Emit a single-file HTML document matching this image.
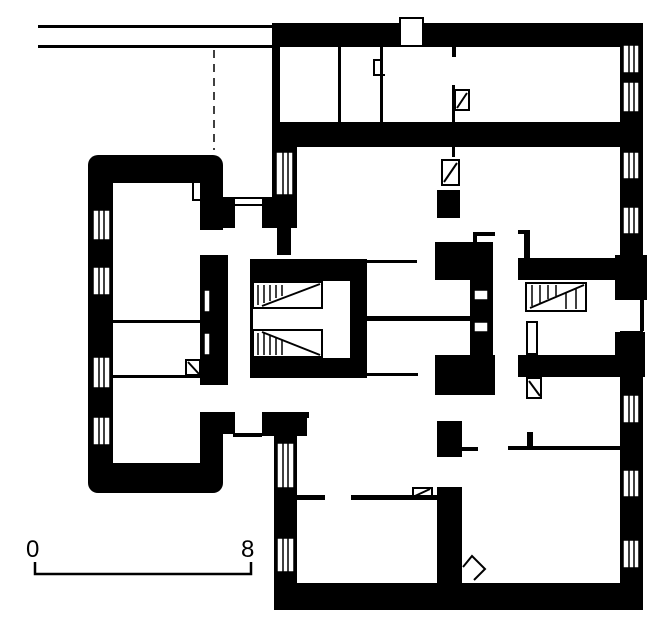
<!DOCTYPE html>
<html><head><style>html,body{margin:0;padding:0;background:#fff}svg{display:block}</style></head>
<body>
<svg width="668" height="634" viewBox="0 0 668 634" xmlns="http://www.w3.org/2000/svg">
<rect width="668" height="634" fill="#fff"/>
<g fill="#000">
<!-- top double line -->
<rect x="38" y="25" width="237" height="3"/>
<rect x="38" y="45" width="237" height="3"/>
<!-- main top wall -->
<rect x="272" y="23" width="371" height="24"/>
<rect x="272" y="23" width="8" height="110"/>
<!-- wall 2 -->
<rect x="272" y="122" width="371" height="25"/>
<!-- right wall -->
<rect x="620" y="23" width="23" height="587"/>
<rect x="615" y="255" width="32" height="45"/>
<rect x="615" y="332" width="30" height="45"/>
<!-- bottom wall -->
<rect x="274" y="583" width="369" height="27"/>
<!-- main left wall -->
<rect x="272" y="145" width="25" height="83"/>
<rect x="277" y="225" width="14" height="30"/>
<rect x="274" y="412" width="23" height="198"/>
<rect x="262" y="412" width="45" height="24"/>
<rect x="297" y="412" width="12" height="6"/>
<!-- left wing -->
<rect x="88" y="155" width="135" height="338" rx="10"/>
<rect x="223" y="197" width="12" height="31"/>
<rect x="262" y="197" width="30" height="31"/>
<rect x="223" y="412" width="12" height="22"/>
<!-- stair block left -->
<rect x="250" y="259" width="117" height="119"/>
<!-- central block -->
<rect x="435" y="242" width="58" height="38"/>
<rect x="470" y="278" width="23" height="82"/>
<rect x="435" y="355" width="60" height="40"/>
<rect x="437" y="190" width="23" height="28"/>
<rect x="437" y="421" width="25" height="36"/>
<rect x="460" y="447" width="18" height="4"/>
<rect x="475" y="232" width="20" height="4"/>
<rect x="473" y="232" width="4" height="12"/>
<!-- right stair block -->
<rect x="518" y="258" width="102" height="22"/>
<rect x="518" y="355" width="102" height="22"/>
<rect x="524" y="230" width="6" height="30"/>
<rect x="518" y="230" width="12" height="4"/>
<!-- lines -->
<rect x="367" y="260" width="50" height="3"/>
<rect x="367" y="316" width="103" height="5"/>
<rect x="367" y="373" width="51" height="3"/>
<rect x="508" y="446" width="112" height="4"/>
<rect x="527" y="432" width="6" height="16"/>
<rect x="297" y="495" width="28" height="5"/>
<rect x="351" y="495" width="86" height="5"/>
<rect x="437" y="487" width="25" height="97"/>
<!-- link lines -->
<rect x="235" y="197" width="27" height="2"/>
<rect x="235" y="204" width="27" height="2"/>
<rect x="233" y="433" width="29" height="4"/>
<!-- top room details -->
<rect x="338" y="47" width="3" height="75"/>
<rect x="380" y="47" width="3" height="75"/>
<rect x="452" y="47" width="4" height="10"/>
<rect x="452" y="85" width="3" height="37"/>
<rect x="452" y="147" width="3" height="10"/>
</g>
<!-- white interiors -->
<g fill="#fff">
<rect x="113" y="183" width="87" height="280"/>
<rect x="200" y="230" width="50" height="25"/>
<rect x="228" y="228" width="22" height="184"/>
<rect x="200" y="385" width="62" height="27"/>
<rect x="235" y="199" width="27" height="5"/>
<rect x="253" y="281" width="97" height="77"/>
<rect x="400" y="20" width="23" height="27"/>
</g>
<g fill="#000">
<rect x="200" y="255" width="28" height="130"/>
<rect x="113" y="320" width="87" height="3"/>
<rect x="113" y="375" width="87" height="3"/>
</g>
<g fill="none" stroke="#000" stroke-width="2">
<rect x="400" y="18" width="23" height="28"/>
<rect x="253" y="282" width="69" height="26"/>
<rect x="253" y="330" width="69" height="27"/>
<line x1="262" y1="306" x2="320" y2="284"/>
<line x1="262" y1="332" x2="320" y2="355"/>
<rect x="526" y="283" width="60" height="28"/>
<line x1="530" y1="308" x2="584" y2="285"/>
<rect x="527" y="322" width="10" height="32"/>
<rect x="527" y="378" width="14" height="20"/>
<line x1="529" y1="381" x2="540" y2="396"/>
<rect x="442" y="160" width="17" height="25"/>
<line x1="444" y1="182" x2="457" y2="163"/>
<rect x="455" y="90" width="14" height="20"/>
<line x1="457" y1="108" x2="467" y2="93"/>
<rect x="413" y="488" width="19" height="9"/>
<line x1="415" y1="496" x2="430" y2="489"/>
<rect x="193" y="180" width="12" height="20"/>
<rect x="186" y="360" width="14" height="15"/>
<line x1="188" y1="362" x2="199" y2="374"/>
<path d="M463 567 L472 556 L485 569 L474 580"/>
<path d="M380 60 L374 60 L374 75 L385 75"/>
</g>
<g stroke="#000" stroke-width="1.5">
<line x1="258" y1="285" x2="258" y2="305"/><line x1="264" y1="285" x2="264" y2="303"/><line x1="270" y1="285" x2="270" y2="301"/><line x1="276" y1="285" x2="276" y2="298"/><line x1="282" y1="285" x2="282" y2="296"/>
<line x1="258" y1="333" x2="258" y2="355"/><line x1="264" y1="333" x2="264" y2="355"/><line x1="270" y1="336" x2="270" y2="355"/><line x1="276" y1="338" x2="276" y2="355"/><line x1="282" y1="340" x2="282" y2="355"/>
<line x1="532" y1="285" x2="532" y2="306"/><line x1="540" y1="285" x2="540" y2="303"/><line x1="548" y1="285" x2="548" y2="299"/><line x1="556" y1="285" x2="556" y2="296"/><line x1="566" y1="292" x2="566" y2="309"/><line x1="576" y1="288" x2="576" y2="309"/>
<line x1="214" y1="50" x2="214" y2="150" stroke-dasharray="8,6"/>
</g>
<!-- windows -->
<g fill="#fff" stroke="#000" stroke-width="1.5">
<rect x="93" y="210" width="17" height="30"/><rect x="93" y="267" width="17" height="28"/>
<rect x="93" y="357" width="17" height="31"/><rect x="93" y="417" width="17" height="28"/>
<rect x="623" y="45" width="16" height="28"/><rect x="623" y="82" width="16" height="30"/>
<rect x="623" y="152" width="16" height="27"/><rect x="623" y="207" width="16" height="27"/>
<rect x="623" y="395" width="16" height="28"/><rect x="623" y="470" width="16" height="27"/>
<rect x="623" y="540" width="16" height="28"/>
<rect x="276" y="152" width="17" height="43"/>
<rect x="277" y="443" width="17" height="45"/><rect x="277" y="538" width="17" height="34"/>
<rect x="204" y="290" width="6" height="22"/><rect x="204" y="333" width="6" height="22"/>
<rect x="474" y="290" width="14" height="10"/><rect x="474" y="322" width="14" height="10"/>
</g>
<g stroke="#000" stroke-width="1.5">
<line x1="99" y1="210" x2="99" y2="445"/><line x1="104" y1="210" x2="104" y2="445"/>
<line x1="629" y1="45" x2="629" y2="568"/><line x1="634" y1="45" x2="634" y2="568"/>
<line x1="283" y1="152" x2="283" y2="195"/><line x1="288" y1="152" x2="288" y2="195"/>
<line x1="283" y1="443" x2="283" y2="572"/><line x1="288" y1="443" x2="288" y2="572"/>
</g>
<!-- re-fill wall between windows to hide bar lines -->
<g fill="#000">
<rect x="89" y="241" width="24" height="25"/><rect x="89" y="296" width="24" height="60"/><rect x="89" y="389" width="24" height="27"/>
<rect x="620" y="113" width="23" height="38"/><rect x="620" y="180" width="23" height="26"/><rect x="620" y="235" width="23" height="159"/>
<rect x="620" y="424" width="23" height="45"/><rect x="620" y="498" width="23" height="41"/>
<rect x="274" y="489" width="23" height="48"/>
</g>
<rect x="619" y="300" width="21" height="31" fill="#fff"/>
<rect x="640" y="300" width="4" height="31" fill="#000"/>
<!-- scale -->
<g font-family="Liberation Sans, sans-serif" font-size="24" fill="#000">
<text x="26" y="557">0</text>
<text x="241" y="557">8</text>
</g>
<path d="M35 562 V574 H251 V562" fill="none" stroke="#000" stroke-width="2.5"/>
</svg>
</body></html>
